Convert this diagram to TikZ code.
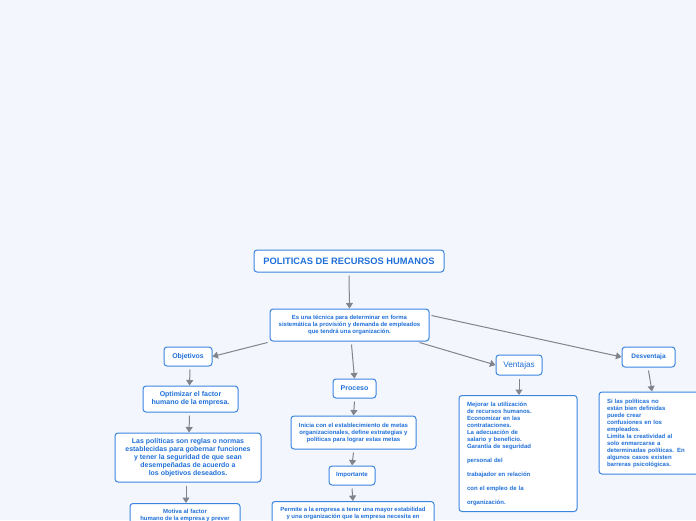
\documentclass[tikz,border=0pt]{standalone}
\usepackage{fontspec}
\setmainfont{Liberation Sans}
\usetikzlibrary{arrows.meta}
\definecolor{bg}{HTML}{F4F6FD}
\definecolor{txt}{HTML}{1E6FD9}
\definecolor{bord}{HTML}{3A85E0}
\definecolor{arr}{HTML}{80848C}
\tikzset{
  box/.style={draw=bord, line width=1pt, rounded corners=3pt, fill=white, text=txt,
    inner sep=0pt, align=center, font=\bfseries},
  lbox/.style={box, align=left},
  conn/.style={draw=arr, line width=1pt, -{Triangle[length=5.5pt,width=7pt]}},
}
\newcommand{\fs}[2]{\fontsize{#1}{#2}\selectfont}
\begin{document}
\begin{tikzpicture}[x=1pt,y=-1pt]
\fill[bg] (0,0) rectangle (696,520);
\useasboundingbox (0,0) rectangle (696,520);
\begin{scope}
\clip (0,0) rectangle (696,520);
\node[box, minimum width=190pt, minimum height=22pt, font=\bfseries\fs{9.3}{11}] (title) at (349,261) {POLITICAS DE RECURSOS HUMANOS};
\node[box, minimum width=159pt, minimum height=32pt, font=\bfseries\fs{5.95}{7}] (def) at (349.5,325) {Es una técnica para determinar en forma\\sistemática la provisión y demanda de empleados\\que tendrá una organización.};
\node[box, minimum width=48pt, minimum height=19pt, font=\bfseries\fs{6.9}{8}] (obj) at (188,356.5) {Objetivos};
\node[box, minimum width=95pt, minimum height=26pt, font=\bfseries\fs{7}{8}] (opt) at (190.5,399) {Optimizar el factor\\humano de la empresa.};
\node[box, minimum width=146pt, minimum height=49pt, font=\bfseries\fs{6.95}{8}] (las) at (188,457.5) {Las políticas son reglas o normas\\establecidas para gobernar funciones\\y tener la seguridad de que sean\\desempeñadas de acuerdo a\\los objetivos deseados.};
\node[box, minimum width=110pt, minimum height=30pt, font=\bfseries\fs{5.95}{7}, anchor=north] (mot) at (185,503) {Motiva al factor\\humano de la empresa y prever\\};
\node[box, minimum width=43pt, minimum height=19pt, font=\bfseries\fs{7}{8}] (pro) at (354.5,388.5) {Proceso};
\node[box, minimum width=125pt, minimum height=33pt, font=\bfseries\fs{6}{7}] (ini) at (353.5,432.5) {Inicia con el establecimiento de metas\\organizacionales, define estrategias y\\políticas para lograr estas metas};
\node[box, minimum width=46pt, minimum height=19pt, font=\bfseries\fs{6.1}{7}] (imp) at (352,475.5) {Importante};
\node[box, minimum width=162pt, minimum height=30pt, font=\bfseries\fs{5.95}{7}, anchor=north] (per) at (353,501) {Permite a la empresa a tener una mayor estabilidad\\y una organización que la empresa necesita en\\};
\node[box, minimum width=46pt, minimum height=20pt, font=\fs{8.2}{9}] (ven) at (519,365) {Ventajas};
\node[lbox, minimum width=118pt, minimum height=116pt, font=\bfseries\fs{6}{7}, text width=102pt, inner xsep=8pt] (venb) at (518,453.5) {Mejorar la utilización\\de recursos humanos.\\Economizar en las\\contrataciones.\\La adecuación de\\salario y beneficio.\\Garantía de seguridad\\[7pt]personal del\\[7pt]trabajador en relación\\[7pt]con el empleo de la\\[7pt]organización.};
\node[box, minimum width=53pt, minimum height=20pt, font=\bfseries\fs{6.5}{8}] (des) at (648.5,357) {Desventaja};
\node[lbox, minimum width=100pt, minimum height=82pt, font=\bfseries\fs{6}{7}, text width=84pt, inner xsep=8pt] (desb) at (649,433) {Si las políticas no\\están bien definidas\\puede crear\\confusiones en los\\empleados.\\Limita la creatividad al\\solo enmarcarse a\\determinadas políticas. En\\algunos casos existen\\barreras psicológicas.};
\end{scope}
\draw[conn] ([yshift=-3pt]title.south) -- (def.north);
\draw[conn] ([xshift=-2pt,yshift=-1pt]def.south west) -- (obj.east);
\draw[conn] ([yshift=-3pt,xshift=2pt]def.south) -- (pro.north);
\draw[conn] ([xshift=-10pt,yshift=-1pt]def.south east) -- (ven.west);
\draw[conn] ([xshift=2pt,yshift=-7pt]def.north east) -- (des.west);
\draw[conn] ([yshift=-3pt,xshift=2pt]obj.south) -- ([xshift=-1pt]opt.north);
\draw[conn] ([yshift=-3pt,xshift=-1pt]opt.south) -- ([xshift=1pt]las.north);
\draw[conn] ([yshift=-3pt,xshift=-2pt]las.south) -- ([xshift=1pt]mot.north);
\draw[conn] ([yshift=-3pt]pro.south) -- (ini.north);
\draw[conn] ([yshift=-3pt]ini.south) -- (imp.north);
\draw[conn] ([yshift=-3pt]imp.south) -- (per.north);
\draw[conn] ([yshift=-3pt]ven.south) -- ([xshift=1pt]venb.north);
\draw[conn] ([yshift=-3pt]des.south) -- ([xshift=3pt]desb.north);
\end{tikzpicture}
\end{document}
